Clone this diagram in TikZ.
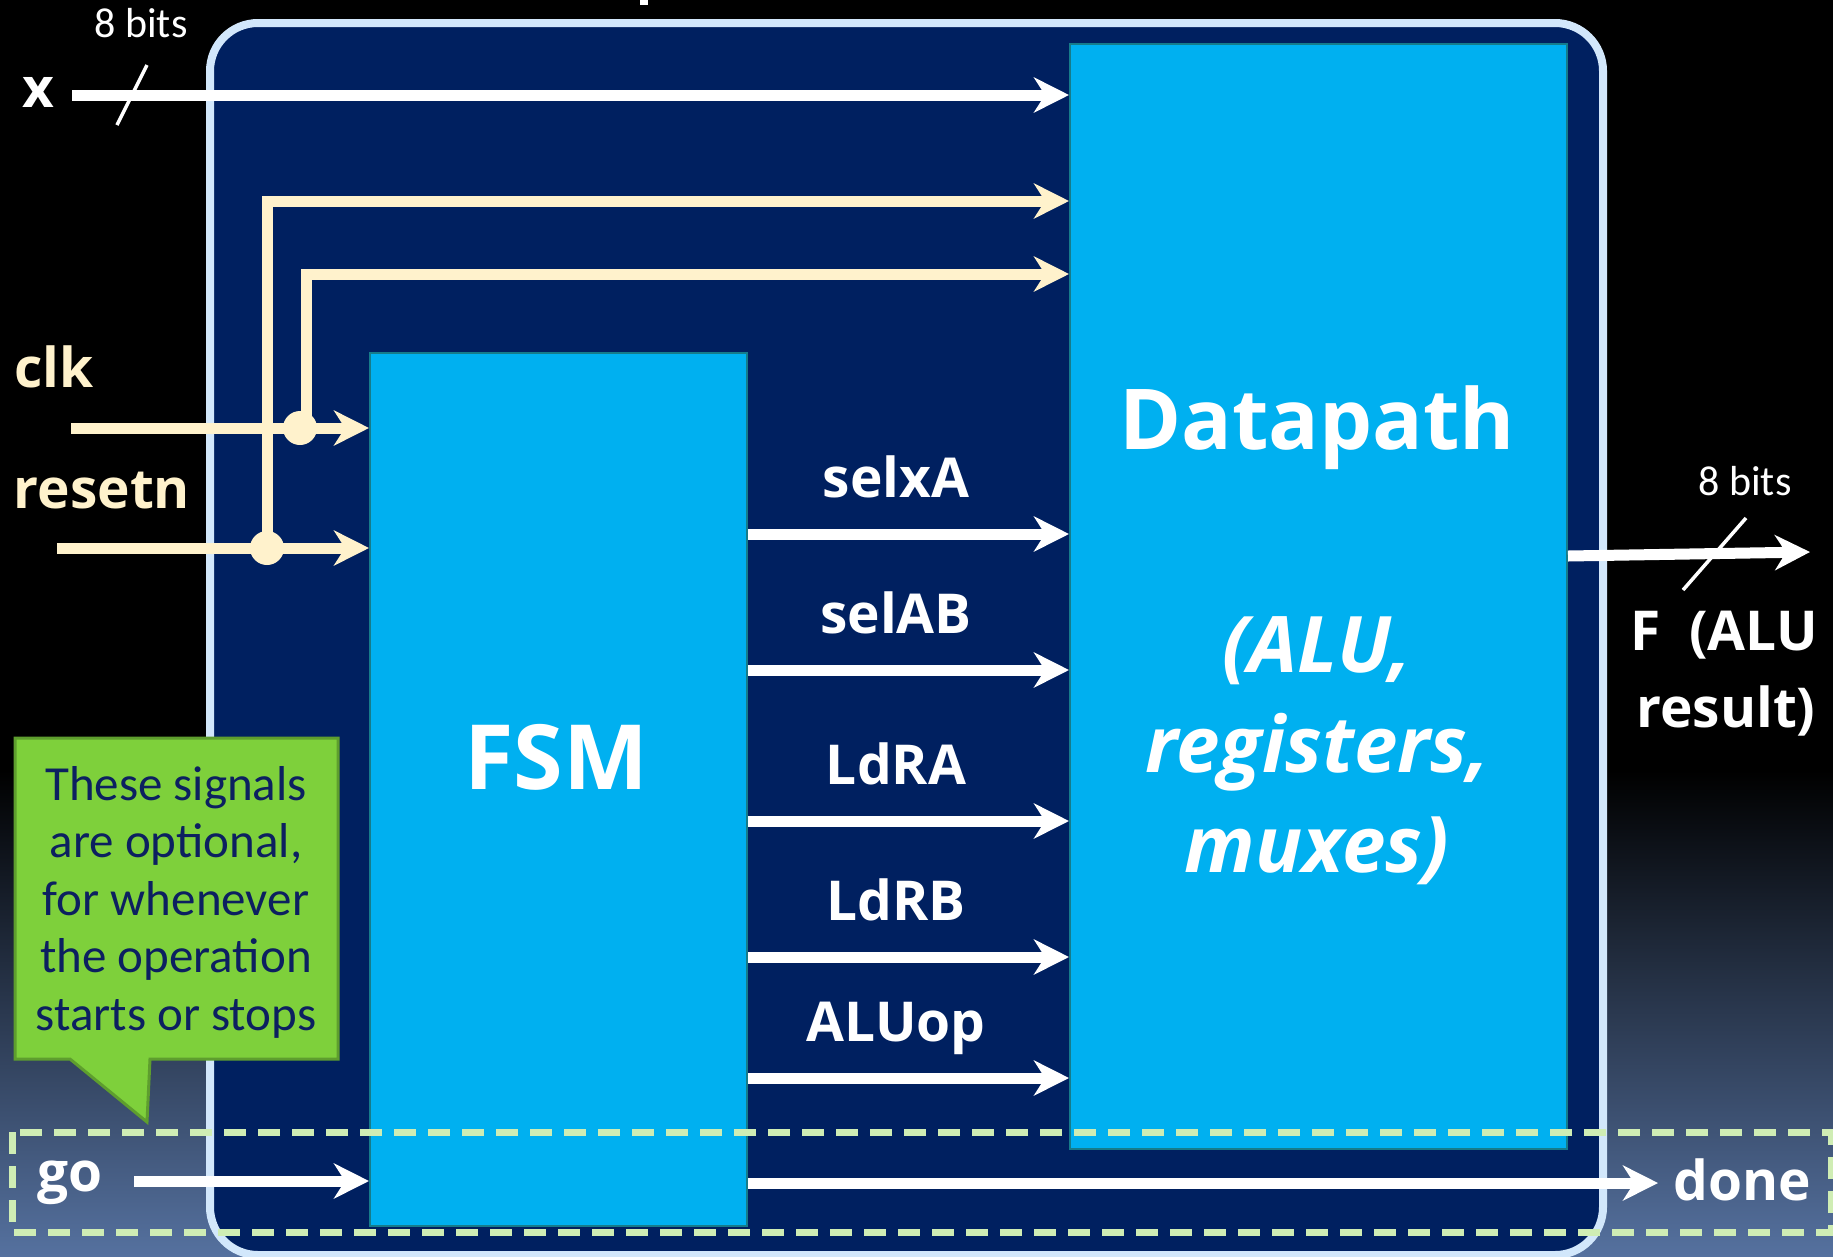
\documentclass[tikz,border=0pt]{standalone}
\usepackage{fontspec}
\setmainfont{Open Sans}
\newfontfamily\notefont{Carlito}
\usetikzlibrary{arrows.meta}

\definecolor{navy}{HTML}{002060}
\definecolor{cyanbox}{HTML}{00B0F0}
\definecolor{boxedge}{HTML}{167C8A}
\definecolor{frameedge}{HTML}{D2E7FB}
\definecolor{cream}{HTML}{FFF2CC}
\definecolor{notegreen}{HTML}{7ED03B}
\definecolor{noteedge}{HTML}{5E9E2E}
\definecolor{optdash}{HTML}{CFEDB4}
\definecolor{bgblue}{HTML}{55719F}
\definecolor{notetext}{HTML}{0C2060}

\begin{document}
\begin{tikzpicture}[x=1pt,y=-1pt,
  blockbox/.style={draw=boxedge, line width=2pt, fill=cyanbox, anchor=north west, inner sep=0pt},
  tipshape/.style={-{Stealth[length=35pt,width=35pt,inset=11pt]}},
  sig/.style={draw=white, line width=11pt, tipshape},
  ctl/.style={draw=cream, line width=11pt},
  ctlarrow/.style={ctl, -{Stealth[length=35pt,width=35pt,inset=11pt,fill=cream]}},
  busmark/.style={draw=white, line width=3.5pt},
  lbl/.style={text=white, font=\fontsize{55}{60}\selectfont\bfseries, anchor=base, inner sep=0pt},
  creamlbl/.style={lbl, text=cream},
  bitslbl/.style={text=white, font=\notefont\fontsize{42}{46}\selectfont, anchor=base, inner sep=0pt},
]
\useasboundingbox (0,0) rectangle (1833,1256);

% backdrop: black fading into slate blue towards the bottom
\fill[black] (0,0) rectangle (1833,1256);
\shade[top color=black, bottom color=bgblue] (0,770) rectangle (1833,1256);
\fill[white] (640,0) rectangle (648,5);

% enclosing system frame
\node[draw=frameedge, line width=8pt, fill=navy, rounded corners=48pt,
      minimum width=1393pt, minimum height=1232pt, anchor=north west, inner sep=0pt]
      (frame) at (206,19) {};

% controller and datapath blocks
\node[blockbox, minimum width=377pt, minimum height=873pt] (fsm) at (369,352) {};
\node[blockbox, minimum width=497pt, minimum height=1105pt] (dp) at (1069,43) {};

\node[text=white, font=\fontsize{90}{96}\selectfont\bfseries, anchor=base, inner sep=0pt]
      (fsmname) at (556,789) {FSM};
\node[text=white, font=\fontsize{84}{92}\selectfont\bfseries, anchor=base, inner sep=0pt]
      (dpname) at (1317,449) {Datapath};
% multi-line node: its base anchor sits on the last line
\node[text=white, font=\fontsize{78}{100}\selectfont\bfseries\itshape, align=center,
      anchor=base, inner sep=0pt] (dpparts) at (1317,872) {(ALU,\\registers,\\muxes)};

% data input x
\coordinate (xin) at (72,95);
\draw[sig] (xin) -- (dp.west |- xin);
\draw[busmark] (117,125) -- (147,65);
\node[lbl] (xname) at (38,107) {x};
\node[bitslbl] (xbits) at (141,37) {8 bits};

% clock and reset
\coordinate (clkin) at (71,428);
\coordinate (rstin) at (57,548);
\coordinate (clkdot) at (300,428);
\coordinate (rstdot) at (267,548);
\draw[ctlarrow] (clkin) -- (fsm.west |- clkin);
\draw[ctlarrow] (rstin) -- (fsm.west |- rstin);
\draw[ctlarrow] (rstdot) |- (dp.west |- 0,201);
\draw[ctlarrow] ([xshift=6pt]clkdot) |- (dp.west |- 0,274);
\fill[cream] (clkdot) circle (17);
\fill[cream] (rstdot) circle (17);
\node[creamlbl] (clkname) at (54,387) {clk};
\node[creamlbl] (rstname) at (102,508) {resetn};

% control signals from the FSM to the datapath
\foreach \yy/\name in {534/selxA, 670/selAB, 821/LdRA, 957/LdRB, 1078/ALUop}{
  \draw[sig] (fsm.east |- 0,\yy) -- (dp.west |- 0,\yy);
  \node[lbl] (lbl-\name) at (896,\yy-37) {\name};
}

% result output F
\coordinate (fout) at (1810,552);
\draw[sig] (dp.east |- 0,556) -- (fout);
\draw[busmark] (1683,590) -- (1746,518);
\node[bitslbl] (fbits) at (1745,495) {8 bits};
\node[lbl] (fname1) at (1724,650) {F\ \ (ALU};
\node[lbl] (fname2) at (1726,727) {result)};

% optional handshake signals
\coordinate (goin) at (134,1181);
\coordinate (doneout) at (1658,1183);
\draw[sig] (goin) -- (fsm.west |- goin);
\draw[sig] (fsm.east |- doneout) -- (doneout);
\node[lbl] (goname) at (70,1191) {go};
\node[lbl] (donename) at (1742,1200) {done};

% callout
\draw[fill=notegreen, draw=noteedge, line width=3pt, line join=miter]
  (15,738) -- (338,738) -- (338,1059) -- (150,1059) -- (147,1122) -- (70,1059) -- (15,1059) -- cycle;
\node[text=notetext, font=\notefont\fontsize{49}{57.5}\selectfont, align=center,
      anchor=base, inner sep=0pt] (note) at (176,1030)
  {These signals\\are optional,\\for whenever\\the operation\\starts or stops};

% dashed outline around the optional signals
\draw[optdash, line width=7pt, dash pattern=on 22pt off 12pt] (12,1132) rectangle (1831,1232);
\end{tikzpicture}
\end{document}
